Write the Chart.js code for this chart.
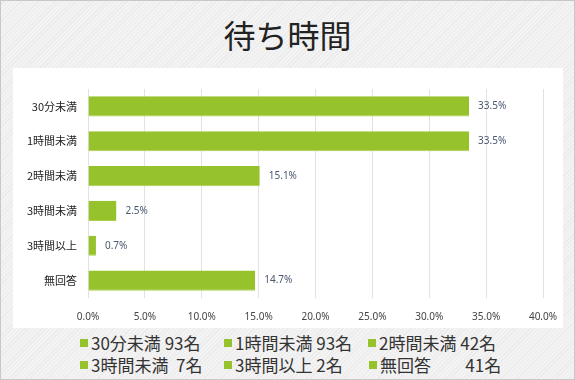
<!DOCTYPE html>
<html>
<head>
<meta charset="utf-8">
<script src="https://cdn.jsdelivr.net/npm/chart.js@4"></script>
<style>
  html, body { margin:0; padding:0; }
  body { width:575px; height:380px; overflow:hidden; font-family:"Noto Sans CJK JP", sans-serif; }
  #frame {
    position:absolute; left:0; top:0; width:573px; height:378px; border:1px solid #c8c8c8;
    background: repeating-linear-gradient(135deg, #f3f3f3 0px, #f3f3f3 2px, #ebebeb 2px, #ebebeb 3px);
  }
  #title { position:absolute; left:0; top:12px; width:575px; text-align:center; font-size:32px; line-height:44px; color:#222; }
  #panel { position:absolute; left:13px; top:68px; width:550px; height:260px; background:#fff; }
  #legend { position:absolute; left:0; top:332px; width:575px; font-size:17px; color:#333; }
  .lg { position:absolute; white-space:pre; line-height:22px; }
  .lg i { display:inline-block; width:8px; height:8px; background:#96c22b; margin-right:3px; vertical-align:middle; position:relative; top:-2px; }
</style>
</head>
<body>
<div id="frame"></div>
<div id="title">待ち時間</div>
<div id="panel"><canvas id="c" width="550" height="260"></canvas></div>
<div id="legend"></div>
<script>
// ==========================================
// データ
// ==========================================
const categories = ['30分未満', '1時間未満', '2時間未満', '3時間未満', '3時間以上', '無回答'];
const percents = [33.5, 33.5, 15.1, 2.5, 0.7, 14.7];
const counts = [93, 93, 42, 7, 2, 41];
const xTicks = [0, 5, 10, 15, 20, 25, 30, 35, 40];
const legendText = ['30分未満 93名', '1時間未満 93名', '2時間未満 42名', '3時間未満  7名', '3時間以上 2名', '無回答         41名'];

// 凡例 (HTML)
const legendPos = [[80, 0], [224, 0], [368, 0], [80, 22], [224, 22], [369, 22]];
const lg = document.getElementById('legend');
legendText.forEach((t, i) => {
  const d = document.createElement('div');
  d.className = 'lg';
  d.style.left = legendPos[i][0] + 'px'; d.style.top = legendPos[i][1] + 'px';
  d.innerHTML = '<i></i>' + t;
  lg.appendChild(d);
});

// バーの右に % ラベル
const valueLabels = {
  id: 'valueLabels',
  afterDatasetsDraw(chart) {
    const ctx = chart.ctx;
    const meta = chart.getDatasetMeta(0);
    ctx.save();
    ctx.font = '10px "Noto Sans", sans-serif';
    ctx.fillStyle = '#4a5870';
    ctx.textBaseline = 'middle';
    ctx.textAlign = 'left';
    meta.data.forEach((bar, i) => {
      ctx.fillText(percents[i].toFixed(1) + '%', bar.x + 9, bar.y);
    });
    ctx.restore();
  }
};

new Chart(document.getElementById('c').getContext('2d'), {
  type: 'bar',
  data: {
    labels: categories,
    datasets: [{ data: percents, backgroundColor: '#96c22b', borderColor: '#a9cf4c', borderWidth: { bottom: 1, top: 0, left: 0, right: 0 }, barPercentage: 0.58, categoryPercentage: 1 }]
  },
  options: {
    indexAxis: 'y',
    responsive: false, animation: false,
    layout: { padding: { top: 21, right: 20, left: 0, bottom: 0 } },
    plugins: { legend: { display: false }, tooltip: { enabled: false } },
    scales: {
      x: {
        min: 0, max: 40,
        afterBuildTicks: (s) => { s.ticks = xTicks.map(v => ({ value: v })); },
        afterFit: (s) => { s.height = 30; s.paddingLeft = 0; s.paddingRight = 0; },
        grid: { color: '#e2e2e2', drawTicks: false },
        border: { display: false },
        ticks: { padding: 13, color: '#444', font: { size: 10, family: '"Noto Sans", sans-serif' }, callback: (v) => Number(v).toFixed(1) + '%' }
      },
      y: {
        afterFit: (s) => { s.width = 75; },
        grid: { display: false, drawTicks: false },
        border: { display: false },
        ticks: { padding: 11, color: '#222', font: { size: 11, family: '"Noto Sans CJK JP", sans-serif' } }
      }
    }
  },
  plugins: [valueLabels]
});
</script>
</body>
</html>
